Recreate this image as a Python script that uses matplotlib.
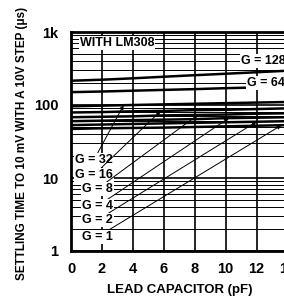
import matplotlib.pyplot as plt
import numpy as np
from matplotlib.ticker import FixedLocator, NullFormatter

# data (settling time, us, vs lead capacitor, pF)
cap   = [0, 2, 4, 6, 8, 10, 12, 14]
g128  = [215, 222, 232, 244, 256, 268, 281, 295]
g64   = [150, 153, 157, 161, 165, 170, 174, 178]
g32   = [96, 98, 100, 102, 104, 106, 108, 110]
g16   = [79, 80, 82, 83, 85, 86, 88, 90]
g8    = [68, 69, 70, 72, 73, 74, 76, 77]
g4    = [60, 61, 62, 63, 64, 66, 67, 68]
g2    = [53, 54, 55, 56, 57, 58, 59, 60]
g1    = [47, 48, 48.5, 49, 50, 51, 52, 53]

# lower labels: text, label height (us), arrow target x (pF)
low_names   = ['G = 32', 'G = 16', 'G = 8', 'G = 4', 'G = 2', 'G = 1']
low_curves  = [g32, g16, g8, g4, g2, g1]
low_lab_y   = [17.7, 11.0, 7.1, 4.1, 2.66, 1.56]
low_arrow_x = [3.4, 5.8, 8.2, 10.2, 12.0, 13.6]

xticks = [0, 2, 4, 6, 8, 10, 12, 14]
yticks = [1, 10, 100, 1000]
ytick_labels = ['1', '10', '100', '1k']

plt.rcParams['font.family'] = ['Liberation Sans', 'DejaVu Sans']
plt.rcParams['font.weight'] = 'bold'

fig = plt.figure(figsize=(2.84, 3.01), dpi=100)
# axes runs past the right edge of the figure, like the cropped original
ax = fig.add_axes([71/284, 1-251/301, 14*15.47/284, 219/301])

ax.set_yscale('log')
ax.set_xlim(0, 14)
ax.set_ylim(1, 1000)

ax.xaxis.set_major_locator(FixedLocator(xticks))
ax.yaxis.set_major_locator(FixedLocator(yticks))
ax.set_yticklabels(ytick_labels, fontweight='bold')
ax.set_xticklabels([str(t) for t in xticks], fontweight='bold')
ax.yaxis.set_minor_formatter(NullFormatter())
ax.grid(True, which='major', color='black', lw=1.2)
ax.grid(True, which='minor', axis='y', color='black', lw=0.7)
ax.tick_params(which='both', length=0, labelsize=10.5)
ax.tick_params(axis='y', pad=9)
ax.tick_params(axis='x', pad=8)
for s in ax.spines.values():
    s.set_linewidth(2.0)

for c in [g128, g64] + low_curves:
    ax.plot(cap, c, color='black', lw=1.8, solid_capstyle='butt')

box = dict(facecolor='white', edgecolor='none', pad=0.6)
ax.text(0.55, 700, 'WITH LM308', fontsize=9, fontweight='bold',
        va='center', ha='left', bbox=box)
ax.text(13.85, 400, 'G = 128', fontsize=9, fontweight='bold',
        va='center', ha='right', bbox=box)
ax.text(13.85, 200, 'G = 64', fontsize=9, fontweight='bold',
        va='center', ha='right', bbox=box)

for name, curve, ly, axx in zip(low_names, low_curves, low_lab_y, low_arrow_x):
    ty = np.interp(axx, cap, curve)
    ax.annotate(name, xy=(axx, ty), xytext=(2.7, ly), fontsize=9,
                fontweight='bold', ha='right', va='center', bbox=box,
                arrowprops=dict(arrowstyle='-|>', color='black', lw=0.7,
                                mutation_scale=6, shrinkA=0, shrinkB=0))

ax.set_xlabel('LEAD CAPACITOR (pF)', fontsize=9.5, fontweight='bold',
              labelpad=6)
fig.text(0.077, 0.525, 'SETTLING TIME TO 10 mV WITH A 10V STEP (\u03bcs)',
         rotation=90, fontsize=8.5, fontweight='bold',
         ha='center', va='center')

fig.savefig('out.png', dpi=100)
